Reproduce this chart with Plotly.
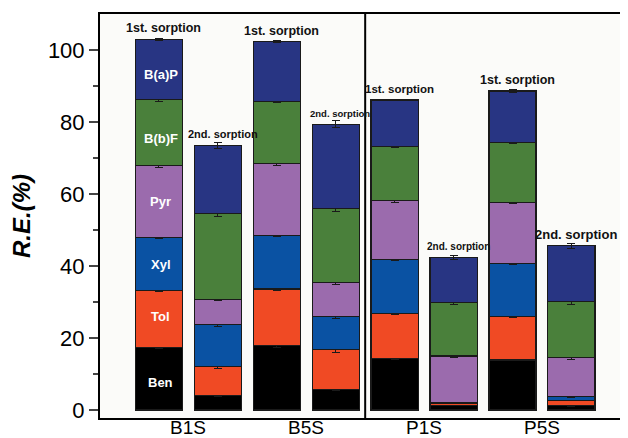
import plotly.graph_objects as go

# positions 0..7: B1S-1st, B1S-2nd, B5S-1st, B5S-2nd, P1S-1st, P1S-2nd, P5S-1st, P5S-2nd
bar_pos = [0, 1, 2, 3, 4, 5, 6, 7]
sorption = ["1st. sorption", "2nd. sorption"] * 4
group_labels = ["B1S", "B5S", "P1S", "P5S"]
group_pos = [0.5, 2.5, 4.5, 6.5]

compounds = ["Ben", "Tol", "Xyl", "Pyr", "B(b)F", "B(a)P"]
ben  = [17.4, 4.0, 17.9, 5.7, 14.2, 1.3, 13.9, 1.2]
tol  = [15.7, 8.0, 15.7, 11.0, 12.5, 0.6, 12.0, 1.5]
xyl  = [14.9, 11.8, 14.9, 9.2, 15.2, 0.1, 14.7, 1.0]
pyr  = [20.0, 6.9, 20.0, 9.6, 16.2, 13.0, 17.1, 10.8]
bbf  = [18.2, 23.9, 17.3, 20.5, 15.0, 14.8, 16.7, 15.6]
bap  = [16.8, 18.9, 16.5, 23.4, 13.0, 12.6, 14.2, 15.5]

ben_err = [0.4, 0.3, 0.5, 0.2, 0.3, 0.1, 0.2, 0.1]
tol_err = [0.3, 0.5, 0.3, 0.7, 0.3, 0.1, 0.3, 0.1]
xyl_err = [0.3, 0.7, 0.3, 0.5, 0.3, 0.1, 0.3, 0.1]
pyr_err = [0.6, 0.4, 0.6, 0.5, 0.4, 0.5, 0.3, 0.5]
bbf_err = [0.4, 0.9, 0.3, 0.9, 0.3, 0.6, 0.3, 0.7]
bap_err = [0.3, 0.8, 0.3, 1.0, 0.2, 0.5, 0.3, 0.7]

colors = ["#000000", "#f04a24", "#0a52a3", "#9b6bad", "#4a803b", "#283583"]
label_y = [7.6, 26.1, 40.3, 57.8, 75.4, 93.3]
sorption_font = [12.5, 11, 12.5, 9.5, 11.5, 10, 12.5, 13]

series = [ben, tol, xyl, pyr, bbf, bap]
errors = [ben_err, tol_err, xyl_err, pyr_err, bbf_err, bap_err]

fig = go.Figure()
for name, vals, errs, col in zip(compounds, series, errors, colors):
    fig.add_trace(go.Bar(
        x=bar_pos, y=vals, name=name, width=0.8,
        marker=dict(color=col, line=dict(color="#1a1a1a", width=1.2)),
        error_y=dict(type="data", array=errs, color="#1a1a1a", thickness=1, width=4),
        showlegend=False,
    ))

font_family = "Arial, Liberation Sans, sans-serif"

# compound labels inside first bar
for name, ly in zip(compounds, label_y):
    fig.add_annotation(x=0.03, y=ly, text=f"<b>{name}</b>", showarrow=False,
                       font=dict(color="white", size=13, family=font_family))

# sorption labels above bars
totals = [sum(s[i] for s in series) for i in range(len(bar_pos))]
for i, (p, t) in enumerate(zip(bar_pos, totals)):
    fig.add_annotation(x=p + 0.08, y=t, text=f"<b>{sorption[i]}</b>", showarrow=False,
                       yshift=11, font=dict(color="#111111", size=sorption_font[i], family=font_family))

# group labels under the axis
for gl, gp in zip(group_labels, group_pos):
    fig.add_annotation(x=gp, y=0, xref="x", yref="paper", text=gl, showarrow=False,
                       yanchor="top", yshift=1, height=18, borderpad=0, valign="middle",
                       font=dict(color="black", size=19, family=font_family))

# divider line
fig.add_shape(type="line", x0=3.5, x1=3.5, y0=0, y1=1, xref="x", yref="paper",
              line=dict(color="black", width=2))

fig.update_layout(
    width=620, height=430,
    barmode="stack",
    margin=dict(l=92, r=0, t=6, b=20),
    paper_bgcolor="white", plot_bgcolor="#fbfbf9",
    font=dict(family=font_family, color="black"),
    xaxis=dict(range=[-1.0, 7.96], showticklabels=False,
               showgrid=False, zeroline=False, showline=True, linecolor="black",
               linewidth=2, mirror=True, ticks="", automargin=False),
    yaxis=dict(range=[-2.22, 110], tickvals=[0, 20, 40, 60, 80, 100],
               showgrid=False, zeroline=False, showline=True, linecolor="black",
               linewidth=2, ticks="outside", ticklen=9, tickwidth=1.5,
               tickfont=dict(size=22), automargin=False,
               minor=dict(tickvals=[10, 30, 50, 70, 90], ticks="outside", ticklen=5, tickwidth=1.5),
               title=dict(text="<b><i>R.E.(%)</i></b>", font=dict(size=24), standoff=14)),
)

fig.write_html("out.html")
